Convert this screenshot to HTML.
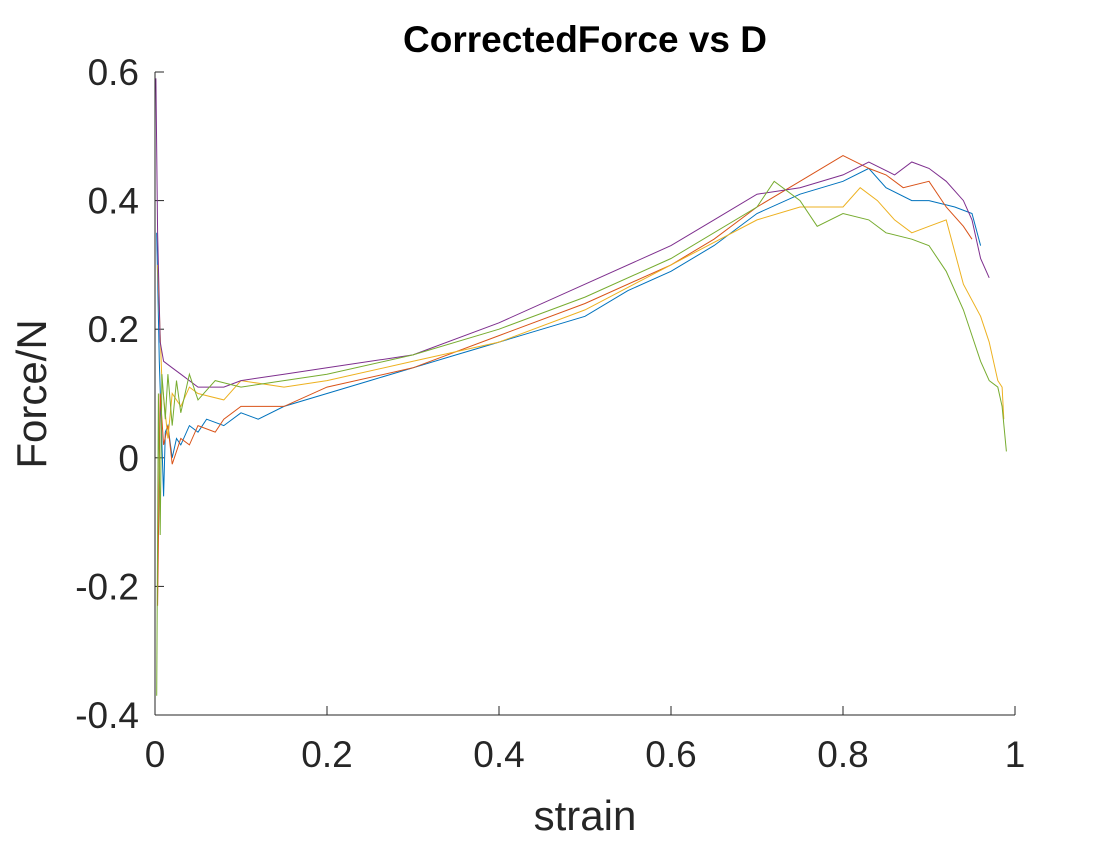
<!DOCTYPE html>
<html><head><meta charset="utf-8"><style>
body{margin:0;background:#fff;width:1120px;height:840px;overflow:hidden}
text{font-family:"Liberation Sans",Arial,sans-serif;fill:#262626}
</style></head><body>
<svg id="chart" width="1120" height="840" xmlns="http://www.w3.org/2000/svg">
<text x="585" y="52" text-anchor="middle" font-size="37" font-weight="bold" style="fill:#000">CorrectedForce vs D</text>
<text x="585" y="830" text-anchor="middle" font-size="42">strain</text>
<text transform="translate(46,394) rotate(-90)" text-anchor="middle" font-size="42">Force/N</text>
<g id="ticks"></g>
<g id="series"></g>
<line x1="155" y1="715" x2="1015" y2="715" stroke="#262626" stroke-width="1"/>
<line x1="155" y1="72" x2="155" y2="715" stroke="#262626" stroke-width="1"/>
</svg>
<script>
const xTicks=[0,0.2,0.4,0.6,0.8,1];
const xTickLabels=["0","0.2","0.4","0.6","0.8","1"];
const yTicks=[-0.4,-0.2,0,0.2,0.4,0.6];
const yTickLabels=["-0.4","-0.2","0","0.2","0.4","0.6"];
const colors=["#0072BD","#D95319","#EDB120","#7E2F8E","#77AC30"];
const blueX=[0.002,0.005,0.01,0.012,0.015,0.02,0.025,0.03,0.04,0.05,0.06,0.08,0.1,0.12,0.15,0.2,0.25,0.3,0.35,0.4,0.45,0.5,0.55,0.6,0.65,0.7,0.75,0.8,0.83,0.85,0.88,0.9,0.93,0.95,0.96];
const blueY=[0.35,0.15,-0.06,0.04,0.05,0.0,0.03,0.02,0.05,0.04,0.06,0.05,0.07,0.06,0.08,0.1,0.12,0.14,0.16,0.18,0.2,0.22,0.26,0.29,0.33,0.38,0.41,0.43,0.45,0.42,0.40,0.40,0.39,0.38,0.33];
const orangeX=[0.003,0.006,0.01,0.015,0.02,0.03,0.04,0.05,0.07,0.08,0.1,0.15,0.2,0.3,0.4,0.5,0.6,0.65,0.7,0.75,0.8,0.83,0.85,0.87,0.9,0.92,0.94,0.95];
const orangeY=[-0.23,0.1,0.02,0.05,-0.01,0.03,0.02,0.05,0.04,0.06,0.08,0.08,0.11,0.14,0.19,0.24,0.3,0.34,0.39,0.43,0.47,0.45,0.44,0.42,0.43,0.39,0.36,0.34];
const yellowX=[0.003,0.008,0.015,0.02,0.03,0.04,0.05,0.08,0.1,0.15,0.2,0.3,0.4,0.5,0.6,0.7,0.75,0.8,0.82,0.84,0.86,0.88,0.9,0.92,0.94,0.96,0.97,0.98,0.985,0.987];
const yellowY=[0.3,0.12,0.03,0.1,0.08,0.11,0.1,0.09,0.12,0.11,0.12,0.15,0.18,0.23,0.3,0.37,0.39,0.39,0.42,0.40,0.37,0.35,0.36,0.37,0.27,0.22,0.18,0.12,0.11,0.06];
const purpleX=[0.001,0.003,0.006,0.01,0.02,0.03,0.05,0.08,0.1,0.15,0.2,0.3,0.4,0.5,0.6,0.65,0.7,0.75,0.8,0.83,0.86,0.88,0.9,0.92,0.94,0.95,0.96,0.97];
const purpleY=[0.59,0.35,0.18,0.15,0.14,0.13,0.11,0.11,0.12,0.13,0.14,0.16,0.21,0.27,0.33,0.37,0.41,0.42,0.44,0.46,0.44,0.46,0.45,0.43,0.40,0.37,0.31,0.28];
const greenX=[0.002,0.004,0.006,0.008,0.012,0.015,0.02,0.025,0.03,0.04,0.05,0.07,0.1,0.15,0.2,0.3,0.4,0.5,0.6,0.7,0.72,0.75,0.77,0.8,0.83,0.85,0.88,0.9,0.92,0.94,0.95,0.96,0.97,0.98,0.985,0.99];
const greenY=[-0.37,0.1,-0.12,0.13,0.06,0.13,0.05,0.12,0.07,0.13,0.09,0.12,0.11,0.12,0.13,0.16,0.2,0.25,0.31,0.39,0.43,0.40,0.36,0.38,0.37,0.35,0.34,0.33,0.29,0.23,0.19,0.15,0.12,0.11,0.08,0.01];
const seriesX=[blueX,orangeX,yellowX,purpleX,greenX];
const seriesY=[blueY,orangeY,yellowY,purpleY,greenY];
const seriesNames=["series-blue","series-orange","series-yellow","series-purple","series-green"];
const X0=155,X1=1015,Y0=715,Y1=72;
function sx(v){return X0+(v-0)/(1-0)*(X1-X0);}
function sy(v){return Y0-(v+0.4)/(1.0)*(Y0-Y1);}
const NS="http://www.w3.org/2000/svg";
const tg=document.getElementById('ticks');
xTicks.forEach((v,i)=>{
  const l=document.createElementNS(NS,'line');
  
  
  l.setAttribute('x1',sx(v));l.setAttribute('x2',sx(v));l.setAttribute('y1',Y0);l.setAttribute('y2',Y0-9);
  l.setAttribute('stroke','#262626');tg.appendChild(l);
  const t=document.createElementNS(NS,'text');
  
  
  t.setAttribute('x',sx(v));t.setAttribute('y',Y0+52);t.setAttribute('text-anchor','middle');t.setAttribute('font-size','37');
  t.textContent=xTickLabels[i];tg.appendChild(t);
});
yTicks.forEach((v,i)=>{
  const l=document.createElementNS(NS,'line');
  
  
  l.setAttribute('x1',X0);l.setAttribute('x2',X0+9);l.setAttribute('y1',sy(v));l.setAttribute('y2',sy(v));
  l.setAttribute('stroke','#262626');tg.appendChild(l);
  const t=document.createElementNS(NS,'text');
  
  
  t.setAttribute('x',X0-16);t.setAttribute('y',sy(v)+13);t.setAttribute('text-anchor','end');t.setAttribute('font-size','37');
  t.textContent=yTickLabels[i];tg.appendChild(t);
});
const sg=document.getElementById('series');
seriesX.forEach((xs,k)=>{
  const ys=seriesY[k];
  const p=document.createElementNS(NS,'polyline');
  
  
  p.setAttribute('points',xs.map((x,i)=>sx(x).toFixed(1)+','+sy(ys[i]).toFixed(1)).join(' '));
  p.setAttribute('fill','none');p.setAttribute('stroke',colors[k]);p.setAttribute('stroke-width','1');
  sg.appendChild(p);
});
</script>
</body></html>
